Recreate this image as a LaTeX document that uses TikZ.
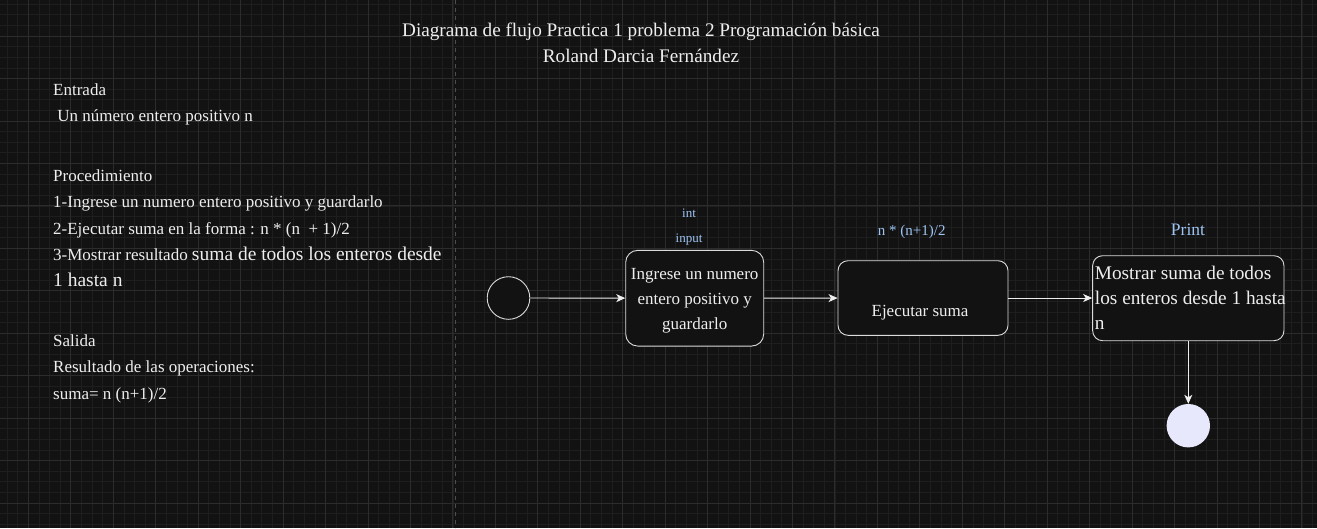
\documentclass[tikz,border=0pt]{standalone}
\usepackage{fontspec}
\setmainfont{Liberation Serif}
\usetikzlibrary{arrows.meta, positioning}

\definecolor{fondo}{RGB}{18,18,18}
\definecolor{rejilla}{RGB}{30,30,30}
\definecolor{rejillamayor}{RGB}{44,44,44}
\definecolor{texto}{RGB}{238,238,238}
\definecolor{etiqueta}{RGB}{158,196,242}
\definecolor{lavanda}{RGB}{232,232,252}
\definecolor{guion}{RGB}{78,78,78}

\tikzset{
  caja/.style={draw=texto!92!black, fill=fondo, rounded corners=12pt, line width=0.9pt,
    text=texto, inner sep=0pt},
  linea/.style={font=\fontsize{17}{17}\selectfont, text=texto, anchor=base west, inner sep=0pt},
  azul/.style={font=\fontsize{13}{13}\selectfont, text=etiqueta, anchor=base, inner sep=0pt},
  flecha/.style={draw=texto, line width=0.9pt, -{Stealth[length=9pt, width=8pt, inset=2.5pt]}}
}

\begin{document}
\begin{tikzpicture}[x=1pt, y=-1pt]
\useasboundingbox (0,0) rectangle (1317,528);
\fill[fondo] (0,0) rectangle (1317,528);
% rejilla
\foreach \k in {0,...,124}
  \draw[rejilla, line width=0.6pt] (-3.54+\k*10.6125,0) -- (-3.54+\k*10.6125,528);
\foreach \k in {0,...,50}
  \draw[rejilla, line width=0.6pt] (0,-6.45+\k*10.6125) -- (1317,-6.45+\k*10.6125);
\foreach \j in {0,...,30}
  \draw[rejillamayor, line width=0.8pt] (28.3+\j*42.45,0) -- (28.3+\j*42.45,528);
\foreach \j in {0,...,12}
  \draw[rejillamayor, line width=0.8pt] (0,-6.45+\j*42.45) -- (1317,-6.45+\j*42.45);
\draw[guion, line width=1.4pt, dash pattern=on 4pt off 4pt] (455.5,0) -- (455.5,528);

% titulo
\node[azul, text=texto, font=\fontsize{19.2}{19.2}\selectfont] (titulo) at (641,36.5)
  {Diagrama de flujo Practica 1 problema 2 Programación básica};
\node[azul, text=texto, font=\fontsize{19.2}{19.2}\selectfont] (autor) at (641,62.5)
  {Roland Darcia Fernández};

% bloque izquierdo
\node[linea] (entrada) at (53,95.5) {Entrada};
\node[linea] (dato) at (53,121.5) {\ Un número entero positivo n};
\node[linea] (proc) at (53,181) {Procedimiento};
\node[linea] (paso1) at (53,207) {1-Ingrese un numero entero positivo y guardarlo};
\node[linea] (paso2) at (53,234) {2-Ejecutar suma en la forma : n * (n \ + 1)/2};
\node[linea] (paso3) at (53,260) {3-Mostrar resultado {\fontsize{19.5}{19.5}\selectfont suma de todos los enteros desde}};
\node[linea, font=\fontsize{19.5}{19.5}\selectfont] (paso3b) at (53,286) {1 hasta n};
\node[linea] (salida) at (53,346) {Salida};
\node[linea] (resul) at (53,372.5) {Resultado de las operaciones:};
\node[linea] (formula) at (53,399) {suma= n (n+1)/2};

% diagrama
\node[circle, draw=texto!92!black, fill=fondo, line width=0.9pt, minimum size=42.6pt, inner sep=0pt]
  (inicio) at (508.5,298) {};
\node[caja, minimum width=138pt, minimum height=95.7pt] (ingreso) at (694.7,298.2) {};
\node[linea, anchor=base] at (694.7,279) {Ingrese un numero};
\node[linea, anchor=base] at (694.7,304.3) {entero positivo y};
\node[linea, anchor=base] at (694.7,329.3) {guardarlo};
\node[azul] (int) at (689,217) {int};
\node[azul] (input) at (689,242) {input};

\node[caja, minimum width=170pt, minimum height=74.6pt, rounded corners=10pt] (suma) at (923,298) {};
\node[linea, anchor=base] at (920,316.7) {Ejecutar suma};
\node[azul, font=\fontsize{15}{15}\selectfont] (formula2) at (911.7,235) {n * (n+1)/2};

\node[caja, minimum width=191.3pt, minimum height=85pt, rounded corners=10pt] (mostrar) at (1188.3,298.2) {};
\node[linea, font=\fontsize{19.3}{19.3}\selectfont] at (1094.7,279) {Mostrar suma de todos};
\node[linea, font=\fontsize{19.3}{19.3}\selectfont] at (1094.7,304) {los enteros desde 1 hasta};
\node[linea, font=\fontsize{19.3}{19.3}\selectfont] at (1094.7,329.3) {n};
\node[azul, font=\fontsize{17.5}{17.5}\selectfont] (print) at (1188,235) {Print};

\node[circle, fill=lavanda, minimum size=43.4pt, inner sep=0pt] (fin) at (1188.3,425.7) {};

\draw[flecha] (inicio) -- (ingreso);
\draw[flecha] (ingreso) -- (suma);
\draw[flecha] (suma) -- (suma -| mostrar.west);
\draw[flecha] (mostrar.south) -- (fin);
\end{tikzpicture}
\end{document}
